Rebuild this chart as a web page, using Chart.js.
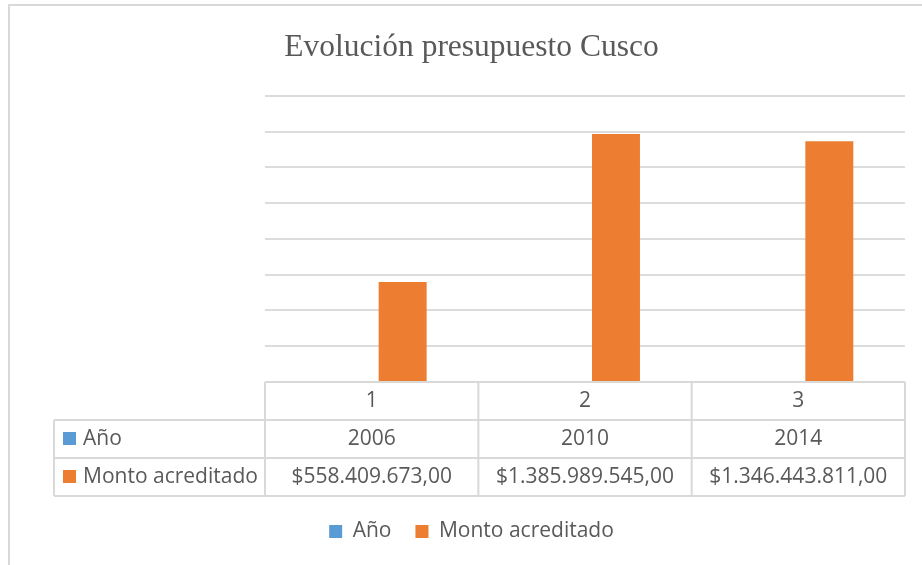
<!DOCTYPE html>
<html>
<head>
<meta charset="utf-8">
<title>Evolución presupuesto Cusco</title>
<script src="https://cdn.jsdelivr.net/npm/chart.js@4.4.1/dist/chart.umd.min.js"></script>
<style>
  body { margin: 0; background: #fff; }
  canvas { display: block; }
</style>
</head>
<body>
<canvas id="chart1" width="922" height="565"></canvas>
<script>
// datos
var categorias = ["1", "2", "3"];
var anios = [2006, 2010, 2014];
var montos = [558409673.00, 1385989545.00, 1346443811.00];
var series = ["Año", "Monto acreditado"];
var colores = ["#5B9BD5", "#ED7D31"];

var gris = "#595959";
var lineas = "#d9d9d9";

function formatoMonto(v) {
    var partes = v.toFixed(2).split(".");
    var entero = partes[0].replace(/\B(?=(\d{3})+(?!\d))/g, ".");
    return "$" + entero + "," + partes[1];
}

// marco exterior del grafico
var marco = {
    id: "marco",
    beforeDraw: function (chart) {
        var ctx = chart.ctx;
        ctx.save();
        ctx.fillStyle = "#fff";
        ctx.fillRect(0, 0, chart.width, chart.height);
        ctx.strokeStyle = lineas;
        ctx.lineWidth = 2;
        ctx.beginPath();
        ctx.moveTo(9, chart.height);
        ctx.lineTo(9, 5);
        ctx.lineTo(chart.width, 5);
        ctx.stroke();
        ctx.restore();
    }
};

// tabla de datos debajo del eje x
var tabla = {
    id: "tabla",
    afterDraw: function (chart) {
        var ctx = chart.ctx;
        var x = chart.scales.x;
        var top = chart.chartArea.bottom;
        var fila = 38;
        var izq = 54;
        var ancho = (x.right - x.left) / categorias.length;
        var filas = [anios.map(String), montos.map(formatoMonto)];

        ctx.save();
        ctx.strokeStyle = lineas;
        ctx.lineWidth = 2;
        ctx.beginPath();
        // horizontales
        ctx.moveTo(x.left, top); ctx.lineTo(x.right, top);
        for (var r = 1; r <= 3; r++) {
            ctx.moveTo(izq, top + fila * r);
            ctx.lineTo(x.right, top + fila * r);
        }
        // verticales
        ctx.moveTo(izq, top + fila); ctx.lineTo(izq, top + fila * 3);
        for (var c = 0; c <= categorias.length; c++) {
            var cx = x.left + ancho * c;
            ctx.moveTo(cx, top); ctx.lineTo(cx, top + fila * 3);
        }
        ctx.stroke();

        ctx.font = "21px 'Open Sans'";
        ctx.fillStyle = gris;
        ctx.textBaseline = "middle";
        ctx.textAlign = "center";
        for (var i = 0; i < categorias.length; i++) {
            var px = x.getPixelForValue(i);
            ctx.fillText(categorias[i], px, top + fila / 2);
            ctx.fillText(filas[0][i], px, top + fila * 1.5);
            ctx.fillText(filas[1][i], px, top + fila * 2.5);
        }
        ctx.textAlign = "left";
        for (var s = 0; s < series.length; s++) {
            var cy = top + fila * (s + 1.5);
            ctx.fillStyle = colores[s];
            ctx.fillRect(63, cy - 7, 13, 13);
            ctx.fillStyle = gris;
            ctx.fillText(series[s], 83, cy);
        }
        ctx.restore();
    }
};

Chart.defaults.font.family = "'Open Sans'";
Chart.defaults.color = gris;

new Chart(document.getElementById("chart1"), {
    "type": "bar",
    "data": {
        "labels": categorias,
        "datasets": [{
            "label": series[0],
            "data": anios,
            "backgroundColor": colores[0],
            "categoryPercentage": 0.581,
            "barPercentage": 0.774
        }, {
            "label": series[1],
            "data": montos,
            "backgroundColor": colores[1],
            "categoryPercentage": 0.581,
            "barPercentage": 0.774
        }]
    },
    "options": {
        "responsive": false,
        "animation": false,
        "layout": { "padding": { "left": 38, "right": 17, "top": 0, "bottom": 13 } },
        "plugins": {
            "title": {
                "display": true,
                "text": "Evolución presupuesto Cusco",
                "font": { "family": "'Liberation Serif'", "size": 31.5, "weight": "normal" },
                "color": gris,
                "padding": { "top": 29, "bottom": 29 }
            },
            "legend": {
                "position": "bottom",
                "labels": {
                    "boxWidth": 13,
                    "boxHeight": 13,
                    "padding": 24,
                    "font": { "size": 21 },
                    "color": gris
                }
            },
            "tooltip": { "enabled": false }
        },
        "scales": {
            "x": {
                "ticks": { "display": false },
                "grid": { "display": false },
                "border": { "display": false },
                "afterFit": function (scale) { scale.height = 115; }
            },
            "y": {
                "min": 0,
                "max": 1600000000,
                "ticks": { "display": false, "stepSize": 200000000 },
                "grid": { "color": "#dcdcdc", "lineWidth": 2, "drawTicks": false },
                "border": { "display": false },
                "afterFit": function (scale) { scale.width = 227; }
            }
        }
    },
    "plugins": [marco, tabla]
});
</script>
</body>
</html>
